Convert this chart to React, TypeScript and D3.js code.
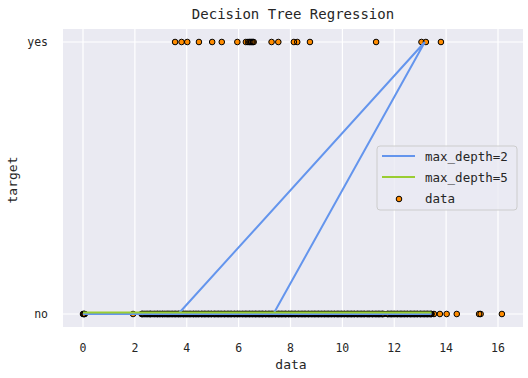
import React from 'react';
import * as d3 from 'd3';

const W = 528;
const H = 378;

const xTicks = [0, 2, 4, 6, 8, 10, 12, 14, 16];
const yTickValues = [0, 1];
const yTickLabels = ['no', 'yes'];

// data points with target "yes"
const yesData = [3.55, 3.8, 4.02, 4.47, 4.98, 5.35, 5.95, 6.28, 6.36, 6.41, 6.45, 6.5, 6.54, 6.58,
  7.27, 7.53, 8.13, 8.26, 8.75, 11.3, 13.05, 13.22, 13.8];

// data points with target "no" (sparse part)
const noSparse = [0, 0.02, 0.05, 0.07, 1.93, 13.44, 13.53, 13.76, 14.02, 14.41, 15.27, 15.33, 16.15];

// data points with target "no" (dense cloud, first batch)
const noDense = [
  2.26, 2.3, 2.37, 2.45, 2.51, 2.58, 2.62, 2.7, 2.77, 2.85, 2.89, 2.96,
  3.04, 3.08, 3.15, 3.23, 3.28, 3.34, 3.42, 3.47, 3.54, 3.59, 3.67, 3.71, 3.78, 3.86, 3.9, 3.97,
  4.03, 4.11, 4.16, 4.24, 4.28, 4.35, 4.42, 4.47, 4.56, 4.6, 4.68, 4.72, 4.81, 4.85, 4.93, 4.97,
  5.06, 5.1, 5.19, 5.23, 5.31, 5.36, 5.44, 5.48, 5.57, 5.61, 5.69, 5.73, 5.82, 5.86, 5.94, 5.98,
  6.05, 6.13, 6.18, 6.26, 6.3, 6.39, 6.43, 6.51, 6.56, 6.64, 6.68, 6.77, 6.81, 6.89, 6.93,
  7.02, 7.06, 7.15, 7.19, 7.27, 7.32, 7.4, 7.44, 7.53, 7.57, 7.65, 7.7, 7.78, 7.82, 7.91, 7.95,
  8.03, 8.08, 8.16, 8.2, 8.29, 8.33, 8.41, 8.46, 8.54, 8.58, 8.67, 8.71, 8.79, 8.84, 8.92, 8.96,
  9.05, 9.09, 9.17, 9.22, 9.3, 9.34, 9.43, 9.47, 9.55, 9.6, 9.68, 9.72, 9.81, 9.85, 9.93, 9.98,
  10.06, 10.1, 10.19, 10.23, 10.31, 10.36, 10.44, 10.48, 10.57, 10.61, 10.69, 10.74, 10.82, 10.86, 10.95,
  11.01, 11.05, 11.14, 11.18, 11.26, 11.31, 11.39, 11.43, 11.52, 11.56, 11.73, 11.77, 11.86, 11.9, 11.98,
  12.03, 12.11, 12.15, 12.24, 12.28, 12.36, 12.41, 12.49, 12.53, 12.62, 12.66, 12.74, 12.79, 12.87,
  12.91, 13.0, 13.04, 13.12, 13.17, 13.25, 13.29, 13.37, 13.42,
];

// data points with target "no" (dense cloud, second batch)
const noDense2 = [
  2.28, 2.34, 2.41, 2.48, 2.55, 2.6, 2.66, 2.74, 2.81, 2.87, 2.93, 2.99,
  3.06, 3.12, 3.19, 3.25, 3.31, 3.38, 3.44, 3.51, 3.57, 3.63, 3.69, 3.75, 3.82, 3.88, 3.94, 4.0,
  4.07, 4.13, 4.2, 4.26, 4.32, 4.38, 4.45, 4.51, 4.58, 4.64, 4.7, 4.77, 4.83, 4.89, 4.95, 5.02,
  5.08, 5.14, 5.21, 5.27, 5.33, 5.4, 5.46, 5.52, 5.59, 5.65, 5.71, 5.78, 5.84, 5.9, 5.96, 6.02,
  6.09, 6.15, 6.22, 6.28, 6.34, 6.41, 6.47, 6.53, 6.6, 6.66, 6.72, 6.79, 6.85, 6.91, 6.97,
  7.04, 7.1, 7.17, 7.23, 7.29, 7.36, 7.42, 7.49, 7.55, 7.61, 7.67, 7.74, 7.8, 7.86, 7.93, 7.99,
  8.05, 8.12, 8.18, 8.25, 8.31, 8.37, 8.44, 8.5, 8.56, 8.63, 8.69, 8.75, 8.82, 8.88, 8.94, 9.01,
  9.07, 9.13, 9.2, 9.26, 9.32, 9.39, 9.45, 9.51, 9.58, 9.64, 9.7, 9.77, 9.83, 9.89, 9.96, 10.02,
  10.08, 10.15, 10.21, 10.27, 10.34, 10.4, 10.46, 10.53, 10.59, 10.65, 10.72, 10.78, 10.84, 10.91, 10.97,
  11.03, 11.1, 11.16, 11.22, 11.29, 11.35, 11.41, 11.48, 11.54, 11.6, 11.75, 11.81, 11.88, 11.94, 12.0,
  12.07, 12.13, 12.2, 12.26, 12.32, 12.39, 12.45, 12.51, 12.58, 12.64, 12.7, 12.77, 12.83, 12.89,
  12.96, 13.02, 13.08, 13.15, 13.21, 13.27, 13.33, 13.4,
];

// max_depth=2 prediction line (in data order)
const depth2X = [0, 13.44, 7.34, 13.18, 3.67];
const depth2Y = [0, 0, 0, 1, 0];

// max_depth=5 prediction line
const depth5X = [0, 13.44];
const depth5Y = [0.0055, 0.0055];

const FONT = '"DejaVu Sans Mono", "Liberation Mono", monospace';

export default function App() {
  const plot = { left: 63, right: 523, top: 29, bottom: 327 };
  const x = d3.scaleLinear().domain([0, 16]).range([83, 498]);
  const y = d3.scaleLinear().domain([0, 1]).range([314, 42]);

  const line = d3.line<[number, number]>().x(d => x(d[0])).y(d => y(d[1]));
  const d2 = line(depth2X.map((v, i) => [v, depth2Y[i]] as [number, number])) || '';
  const d5 = line(depth5X.map((v, i) => [v, depth5Y[i]] as [number, number])) || '';

  const sparse: [number, number][] = [
    ...noSparse.map(v => [v, 0] as [number, number]),
    ...yesData.map(v => [v, 1] as [number, number]),
  ];
  const dense: [number, number][] = [
    ...noDense.map(v => [v, 0] as [number, number]),
    ...noDense2.map(v => [v, 0] as [number, number]),
  ];
  const points = [...dense, ...sparse];

  const r = 2.8;
  const orange = '#FF8C00';

  return (
    <svg width={W} height={H} style={{ position: 'absolute', left: 0, top: 0, background: '#fff' }}>
      <rect x={plot.left} y={plot.top} width={plot.right - plot.left} height={plot.bottom - plot.top} fill="#EAEAF2" />
      {xTicks.map(t => (
        <line key={'gx' + t} x1={x(t)} x2={x(t)} y1={plot.top} y2={plot.bottom} stroke="#fff" strokeWidth={1.2} />
      ))}
      {yTickValues.map(t => (
        <line key={'gy' + t} x1={plot.left} x2={plot.right} y1={y(t)} y2={y(t)} stroke="#fff" strokeWidth={1.2} />
      ))}
      <g>
        {points.map((p, i) => (
          <circle key={'f' + i} cx={x(p[0])} cy={y(p[1])} r={r} fill={orange} />
        ))}
        {points.map((p, i) => (
          <circle key={'s' + i} cx={x(p[0])} cy={y(p[1])} r={r} fill="none" stroke="#000" strokeWidth={1} />
        ))}
      </g>
      <path d={d2} fill="none" stroke="#6495ED" strokeWidth={2} />
      <path d={d5} fill="none" stroke="#9ACD32" strokeWidth={2} />
      {/* legend */}
      <g>
        <rect x={377} y={146} width={140} height={64} rx={3} fill="#EAEAF2" fillOpacity={0.8} stroke="#cccccc" strokeWidth={1} />
        <line x1={382} x2={415} y1={156} y2={156} stroke="#6495ED" strokeWidth={2} />
        <text x={425} y={160.5} fontFamily={FONT} fontSize={12.5} fill="#262626">max_depth=2</text>
        <line x1={382} x2={415} y1={177} y2={177} stroke="#9ACD32" strokeWidth={2} />
        <text x={425} y={181.5} fontFamily={FONT} fontSize={12.5} fill="#262626">max_depth=5</text>
        <circle cx={399} cy={199} r={r} fill={orange} stroke="#000" strokeWidth={1} />
        <text x={425} y={202.5} fontFamily={FONT} fontSize={12.5} fill="#262626">data</text>
      </g>
      {/* axes ticks */}
      {xTicks.map(t => (
        <text key={'tx' + t} x={x(t)} y={352} textAnchor="middle" fontFamily={FONT} fontSize={11.5} fill="#262626">{t}</text>
      ))}
      {yTickValues.map((t, i) => (
        <text key={'ty' + t} x={48} y={y(t) + 4} textAnchor="end" fontFamily={FONT} fontSize={11.5} fill="#262626">{yTickLabels[i]}</text>
      ))}
      <text x={291} y={369} textAnchor="middle" fontFamily={FONT} fontSize={13} fill="#262626">data</text>
      <text transform="translate(17,180) rotate(-90)" textAnchor="middle" fontFamily={FONT} fontSize={13} fill="#262626">target</text>
      <text x={293} y={19} textAnchor="middle" fontFamily={FONT} fontSize={14} fill="#262626">Decision Tree Regression</text>
    </svg>
  );
}
